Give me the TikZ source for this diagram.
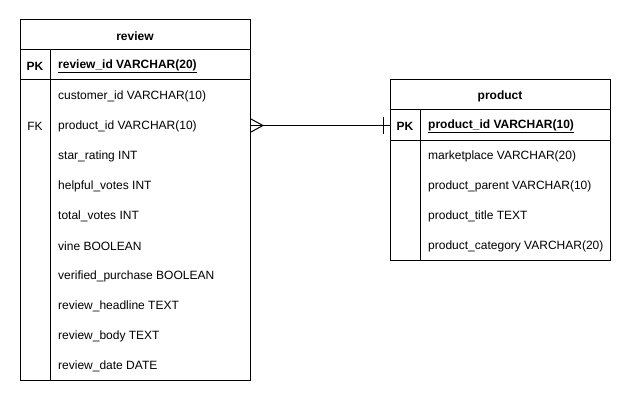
\documentclass[tikz,border=0pt]{standalone}
\usepackage{fontspec}
\setmainfont{Liberation Sans}
\usetikzlibrary{positioning}
\begin{document}
\begin{tikzpicture}[x=1pt,y=-1pt,
  frame/.style={draw=black,line width=1pt},
  txt/.style={font=\fontsize{12}{14}\selectfont,anchor=west,inner sep=0pt},
  ttl/.style={font=\fontsize{12}{14}\selectfont\bfseries,inner sep=0pt},
  pk/.style={font=\fontsize{12}{14}\selectfont\bfseries,inner sep=0pt},
  fk/.style={font=\fontsize{12}{14}\selectfont,inner sep=0pt},
  rel/.style={draw=black,line width=1pt}]
\useasboundingbox (0,0) rectangle (631,401);
% review table
\draw[frame] (20,20) rectangle (250,380);
\draw[frame] (20,50) -- (250,50);
\draw[frame] (20,80) -- (250,80);
\draw[frame] (50,50) -- (50,380);
\node[ttl] (rt) at (135,36) {review};
\node[pk] (rpk) at (35,66) {PK};
\node[txt] (rid) at (58,66) {\underline{\textbf{review\_id VARCHAR(20)}}};
\node[txt] (r1) at (58,96) {customer\_id VARCHAR(10)};
\node[fk] (rfk) at (35,126) {FK};
\node[txt] (r2) at (58,126) {product\_id VARCHAR(10)};
\node[txt] (r3) at (58,156) {star\_rating INT};
\node[txt] (r4) at (58,186) {helpful\_votes INT};
\node[txt] (r5) at (58,216) {total\_votes INT};
\node[txt] (r6) at (58,246) {vine BOOLEAN};
\node[txt] (r7) at (58,276) {verified\_purchase BOOLEAN};
\node[txt] (r8) at (58,306) {review\_headline TEXT};
\node[txt] (r9) at (58,336) {review\_body TEXT};
\node[txt] (r10) at (58,366) {review\_date DATE};
% product table
\draw[frame] (390,80) rectangle (610,260);
\draw[frame] (390,110) -- (610,110);
\draw[frame] (390,140) -- (610,140);
\draw[frame] (420,110) -- (420,260);
\node[ttl] (pt) at (500,96) {product};
\node[pk] (ppk) at (405,126) {PK};
\node[txt] (pid) at (428,126) {\underline{\textbf{product\_id VARCHAR(10)}}};
\node[txt] (p1) at (428,156) {marketplace VARCHAR(20)};
\node[txt] (p2) at (428,186) {product\_parent VARCHAR(10)};
\node[txt] (p3) at (428,216) {product\_title TEXT};
\node[txt] (p4) at (428,246) {product\_category VARCHAR(20)};
% relationship
\coordinate (ra) at (250,125.5);
\coordinate (pa) at (390,125.5);
\coordinate (apex) at (263,125.5);
\draw[rel] (ra) -- (pa);
\draw[rel] (250,118.5) -- (apex) -- (250,132.5);
\draw[rel] (383,117.5) -- (383,133.5);
\end{tikzpicture}
\end{document}
